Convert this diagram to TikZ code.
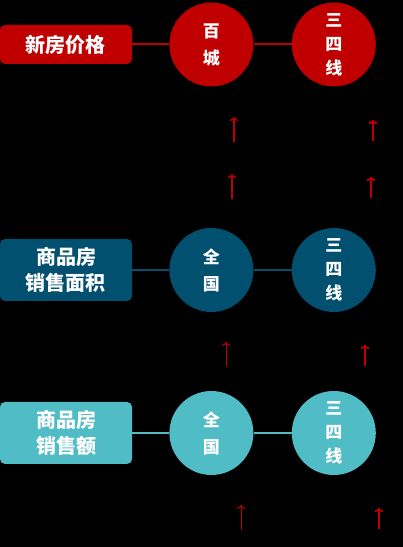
\documentclass[tikz,border=0pt]{standalone}
\usepackage{fontspec}
\newfontfamily\cjk{Noto Sans CJK SC}
\usepackage{tikz}
\usetikzlibrary{positioning}
\usetikzlibrary{shapes.geometric}
\usetikzlibrary{arrows.meta}

\definecolor{xinred}{HTML}{C00000}
\definecolor{mjblue}{HTML}{02506F}
\definecolor{xsteal}{HTML}{50BCC6}

\begin{document}
\begin{tikzpicture}[x=1pt,y=1pt,
	labbox/.style={fill=#1,rounded corners=5pt,minimum width=132pt,text=white,
		font=\cjk\bfseries\fontsize{20}{26}\selectfont,align=center},
	ball/.style={circle,fill=#1,minimum size=84pt,inner sep=0pt,text=white,
		font=\cjk\bfseries\fontsize{17}{24}\selectfont,align=center},
	link/.style={draw=#1,line width=2pt},
	uparr/.style={-{To[length=4pt,width=9pt]},draw=xinred,line width=1.2pt}]
	\fill[black] (0,0) rectangle (403,547);
	\useasboundingbox (0,0) rectangle (403,547);
	%% row a
	\node[labbox=xinred,minimum height=39pt] (a0) at (66,502.5) {新房价格};
	\node[ball=xinred,right=37pt of a0] (a1) {百\\[3pt]城};
	\node[ball=xinred,right=38pt of a1] (a2) {三\\四\\线};
	\draw[link=xinred] (a0) -- (a1) -- (a2);
	%% row b
	\node[labbox=mjblue,minimum height=62pt] (b0) at (66,277) {商品房\\销售面积};
	\node[ball=mjblue,right=37pt of b0] (b1) {全\\[3pt]国};
	\node[ball=mjblue,right=38pt of b1] (b2) {三\\四\\线};
	\draw[link=mjblue] (b0) -- (b1) -- (b2);
	%% row c
	\node[labbox=xsteal,minimum height=62pt] (c0) at (66,114) {商品房\\销售额};
	\node[ball=xsteal,right=37pt of c0] (c1) {全\\[3pt]国};
	\node[ball=xsteal,right=38pt of c1] (c2) {三\\四\\线};
	\draw[link=xsteal] (c0) -- (c1) -- (c2);
	% 箭头
	\coordinate (p1) at (234,405); \coordinate (q1) at (234,430);
	\coordinate (p2) at (373,406); \coordinate (q2) at (373,427);
	\coordinate (p3) at (232,348); \coordinate (q3) at (232,373);
	\coordinate (p4) at (371,349); \coordinate (q4) at (371,370);
	\coordinate (p5) at (226,180); \coordinate (q5) at (226,205);
	\coordinate (p6) at (365,181); \coordinate (q6) at (365,202);
	\coordinate (p7) at (241,17); \coordinate (q7) at (241,42);
	\coordinate (p8) at (379,18); \coordinate (q8) at (379,39);
	\draw[uparr] (p1) -- (q1);
	\draw[uparr,line width=2pt] (p2) -- (q2);
	\draw[uparr] (p3) -- (q3);
	\draw[uparr,line width=2pt] (p4) -- (q4);
	\draw[uparr,line width=1pt] (p5) -- (q5);
	\draw[uparr,line width=1.6pt] (p6) -- (q6);
	\draw[uparr,line width=1pt] (p7) -- (q7);
	\draw[uparr,line width=1.6pt] (p8) -- (q8);
\end{tikzpicture}
\end{document}
